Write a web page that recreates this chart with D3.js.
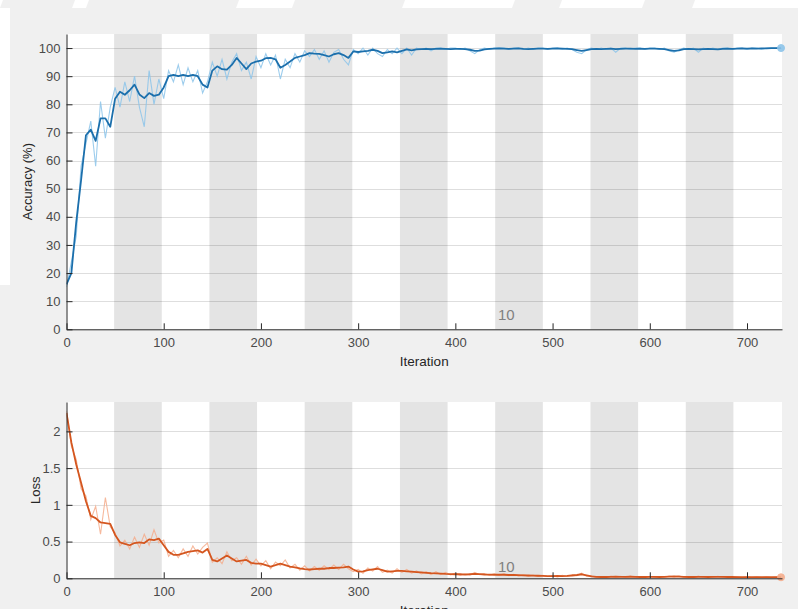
<!DOCTYPE html>
<html><head><meta charset="utf-8">
<script src="https://cdn.jsdelivr.net/npm/d3@7"></script>
<style>body{margin:0;background:#fff}svg{display:block}text{font-family:"Liberation Sans",Arial,sans-serif}</style>
</head><body>
<svg id="c" width="798" height="609"></svg>
<script>
// ---------- data ----------
const itersPerEpoch = 49;
const numEpochs = 15;
const lastIter = 735;
const step = 5; // values sampled every 5 iterations, 0..735
const xTicks = [0,100,200,300,400,500,600,700];
const accTicks = [0,10,20,30,40,50,60,70,80,90,100];
const lossTicks = [0,0.5,1,1.5,2];
const epochLabel = "10";

const accSmooth = [
16,20,38,53,69,71,67,75,75,72,
82,84.5,83.4,85,87,83.5,82.2,84,83,83.4,
86,90,90.5,90,90.5,90,90.5,90,87,86,
92,93.5,92.5,92.3,94,96.5,94.5,92.5,94.5,95.2,
95.5,96.4,96.5,96,93,94,95.2,96.5,97,97.5,
98.2,98,97.9,97.5,97,97.8,98.2,97.5,96.5,98.8,
98.6,98.8,99,99.4,99,98.2,98.5,98.8,98.5,99,
99.5,99.2,99.5,99.6,99.7,99.6,99.7,99.8,99.7,99.6,
99.7,99.7,99.6,99.4,99.0,99.1,99.5,99.7,99.8,99.9,
99.8,99.7,99.8,99.9,99.7,99.6,99.7,99.8,99.8,99.7,
99.8,99.9,99.8,99.7,99.6,99.3,99.0,99.3,99.6,99.7,
99.6,99.7,99.8,99.6,99.7,99.8,99.8,99.7,99.8,99.7,
99.8,99.8,99.7,99.6,99.3,99.0,99.2,99.6,99.7,99.6,
99.5,99.6,99.7,99.6,99.5,99.7,99.8,99.7,99.8,99.9,
99.8,99.9,99.8,99.9,99.9,100,100,100];

const accRaw = [
15,24,33,58,66,74,58,81,68,79,
86,79,88,81,90,79,72,92,80,89,
82,92,88,94,87,93,88,92,84,88,
95,90,96,89,95,98,92,95,89,97,
93,98,94,97.5,89,96,93,98,95,99,
97,99.5,96,99,95,98.5,99.5,96,94,99.5,
98,100,97.5,100,98,97,99.5,98,100,98,
100,97.5,100,99.5,100,99,100,100,99.5,100,
100,99.5,100,99,98,99.5,100,99.5,100,100,
100,99.5,100,100,99.5,100,99.5,100,100,99.5,
100,100,99.5,100,99.5,98.5,98,99.5,100,99.5,
100,99.5,100,98.5,100,100,99.5,100,100,99.5,
100,100,99.5,100,99,98.5,99.5,100,99.5,100,
98.5,100,99.5,100,99.5,100,100,99.5,100,100,
99.5,100,100,99.5,100,100,100,100];

const lossSmooth = [
2.25,1.85,1.55,1.3,1.05,0.85,0.82,0.76,0.75,0.74,
0.59,0.49,0.47,0.45,0.48,0.49,0.48,0.53,0.52,0.54,
0.45,0.36,0.32,0.32,0.34,0.36,0.37,0.38,0.35,0.40,
0.25,0.23,0.27,0.31,0.27,0.23,0.24,0.25,0.21,0.20,
0.20,0.18,0.16,0.18,0.20,0.18,0.16,0.15,0.135,0.125,
0.12,0.125,0.13,0.13,0.14,0.14,0.145,0.15,0.16,0.12,
0.09,0.095,0.11,0.12,0.13,0.11,0.09,0.095,0.10,0.10,
0.095,0.09,0.085,0.08,0.075,0.07,0.068,0.065,0.06,0.058,
0.055,0.055,0.05,0.055,0.06,0.058,0.052,0.05,0.048,0.05,
0.048,0.045,0.045,0.042,0.04,0.038,0.036,0.035,0.032,0.03,
0.03,0.032,0.03,0.033,0.038,0.045,0.055,0.04,0.025,0.02,
0.018,0.018,0.02,0.022,0.02,0.02,0.022,0.02,0.018,0.018,
0.02,0.02,0.018,0.02,0.022,0.025,0.024,0.02,0.018,0.018,
0.02,0.019,0.018,0.02,0.02,0.019,0.018,0.018,0.017,0.016,
0.016,0.017,0.016,0.015,0.015,0.014,0.014,0.014];

const lossRaw = [
2.28,1.8,1.62,1.22,1.12,0.8,0.98,0.6,1.1,0.7,
0.62,0.44,0.52,0.4,0.56,0.42,0.6,0.45,0.66,0.48,
0.52,0.3,0.38,0.28,0.4,0.3,0.44,0.33,0.42,0.48,
0.22,0.28,0.2,0.36,0.24,0.28,0.19,0.3,0.18,0.26,
0.17,0.24,0.13,0.22,0.17,0.25,0.14,0.19,0.11,0.17,
0.1,0.16,0.11,0.17,0.12,0.18,0.12,0.19,0.13,0.09,
0.12,0.07,0.14,0.1,0.16,0.08,0.11,0.07,0.13,0.08,
0.12,0.07,0.1,0.06,0.09,0.05,0.09,0.05,0.08,0.045,
0.07,0.04,0.065,0.045,0.08,0.05,0.065,0.04,0.06,0.04,
0.06,0.035,0.055,0.03,0.05,0.03,0.045,0.025,0.04,0.025,
0.04,0.02,0.04,0.025,0.05,0.035,0.07,0.03,0.035,0.012,
0.025,0.01,0.03,0.015,0.028,0.012,0.03,0.012,0.025,0.01,
0.028,0.012,0.025,0.015,0.032,0.018,0.035,0.012,0.025,0.01,
0.03,0.012,0.025,0.012,0.028,0.012,0.025,0.01,0.024,0.01,
0.022,0.01,0.022,0.01,0.02,0.01,0.018,0.014];

// ---------- drawing ----------
const svg = d3.select("#c");
const FIG = "#f0f0f0";

// background / figure area
svg.append("rect").attr("width",798).attr("height",609).attr("fill","#fff");
svg.append("rect").attr("x",10).attr("y",8).attr("width",788).attr("height",601).attr("fill",FIG);
svg.append("rect").attr("x",0).attr("y",285).attr("width",10).attr("height",324).attr("fill",FIG);
// top strip watermark fragments
const topShapes = [[0,72],[86,236],[292,402],[512,559],[642,692]];
topShapes.forEach(([a,b])=>{
  svg.append("path").attr("d",`M${a+3},0L${b+3},0L${b},8L${a},8Z`).attr("fill",FIG);
});

const xL = 66.5, xR = 782;
const x = d3.scaleLinear().domain([0,736]).range([xL,xR]);

function panel(cfg){
  const {top,bottom,y,ticks,fmt,raw,smooth,rawColor,smColor,ylabel,ylabelX,labelBase,iterBase} = cfg;
  const g = svg.append("g");
  const clipId = "clip"+top;
  svg.append("clipPath").attr("id",clipId).append("rect")
    .attr("x",xL).attr("y",top).attr("width",xR-xL).attr("height",bottom-top);
  g.append("rect").attr("x",xL).attr("y",top).attr("width",xR-xL).attr("height",bottom-top).attr("fill","#fff");
  // epoch bands
  const bands = d3.range(1,numEpochs,2);
  g.selectAll(".band").data(bands).join("rect")
    .attr("x",e=>x(e*itersPerEpoch)).attr("y",top)
    .attr("width",e=>x((e+1)*itersPerEpoch)-x(e*itersPerEpoch))
    .attr("height",bottom-top).attr("fill","#e4e4e4");
  // grid
  g.selectAll(".grid").data(ticks.filter(t=>t>0)).join("line")
    .attr("x1",xL).attr("x2",xR).attr("y1",t=>Math.round(y(t))+0.5).attr("y2",t=>Math.round(y(t))+0.5)
    .attr("stroke","#000").attr("stroke-opacity",0.13);
  // epoch label
  g.append("text").attr("x",498).attr("y",labelBase).attr("font-size",15).attr("fill","#808080").text(epochLabel);
  // lines
  const line = d3.line().x((d,i)=>x(i*step)).y(d=>y(d));
  const lg = g.append("g").attr("clip-path",`url(#${clipId})`);
  lg.append("path").attr("d",line(raw)).attr("fill","none").attr("stroke",rawColor).attr("stroke-width",1.1).attr("stroke-opacity",0.85);
  lg.append("path").attr("d",line(smooth)).attr("fill","none").attr("stroke",smColor).attr("stroke-width",1.8).attr("stroke-linejoin","round");
  // final marker
  g.append("circle").attr("cx",x(lastIter)).attr("cy",y(smooth[smooth.length-1])).attr("r",3.5)
    .attr("fill",rawColor).attr("stroke",rawColor).attr("opacity",0.9);
  // axes
  const ax = g.append("g").attr("transform",`translate(0,${bottom})`)
    .call(d3.axisBottom(x).tickValues(xTicks).tickSize(-6).tickSizeOuter(0).tickPadding(8));
  const ay = g.append("g").attr("transform",`translate(${xL},0)`)
    .call(d3.axisLeft(y).tickValues(ticks).tickFormat(fmt).tickSize(-6).tickSizeOuter(0).tickPadding(6));
  [ax,ay].forEach(a=>{
    a.select(".domain").attr("stroke","#262626");
    a.selectAll(".tick line").attr("stroke","#262626");
    a.selectAll("text").attr("fill","#4a4a4a").attr("font-size",13).attr("font-family",'"Liberation Sans",Arial,sans-serif');
  });
  // labels
  g.append("text").attr("x",(xL+xR)/2).attr("y",iterBase).attr("text-anchor","middle")
    .attr("font-size",13.5).attr("fill","#262626").text("Iteration");
  g.append("text").attr("transform",`translate(${ylabelX},${(top+bottom)/2}) rotate(-90)`)
    .attr("text-anchor","middle").attr("font-size",13).attr("fill","#262626").text(ylabel);
}

panel({top:34,bottom:329.3,y:d3.scaleLinear().domain([0,105]).range([329.3,34]),
  ticks:accTicks,fmt:d3.format("d"),raw:accRaw,smooth:accSmooth,
  rawColor:"#8cc4ea",smColor:"#1b6fac",ylabel:"Accuracy (%)",ylabelX:32,labelBase:320,iterBase:366});
panel({top:402,bottom:578.3,y:d3.scaleLinear().domain([0,2.4]).range([578.3,402]),
  ticks:lossTicks,fmt:d=>String(d),raw:lossRaw,smooth:lossSmooth,
  rawColor:"#f5ad8c",smColor:"#d4561f",ylabel:"Loss",ylabelX:40,labelBase:572,iterBase:615});
</script>
</body></html>
